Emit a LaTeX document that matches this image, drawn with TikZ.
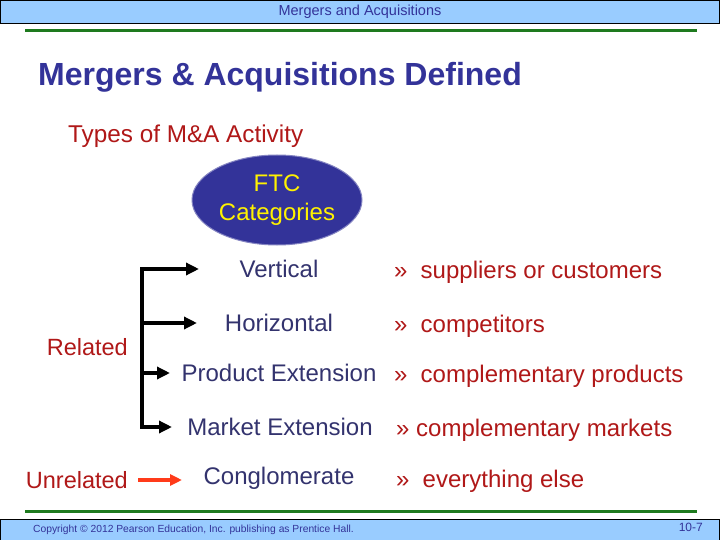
\documentclass[tikz,border=0pt]{standalone}
\usepackage{fontspec}
\setmainfont{Liberation Sans}
\usetikzlibrary{arrows.meta,shapes.geometric}
\definecolor{band}{HTML}{99CCFF}
\definecolor{navy}{HTML}{333399}
\definecolor{itemblue}{HTML}{33336E}
\definecolor{darkred}{HTML}{B01818}
\definecolor{rulegreen}{HTML}{1E7A1E}
\definecolor{arrowred}{HTML}{FF3B1A}
\tikzset{
  item/.style={text=itemblue, font=\fontsize{24}{26}\selectfont, inner sep=0pt},
  desc/.style={text=darkred, font=\fontsize{24}{26}\selectfont, inner sep=0pt, anchor=base west},
  side/.style={text=darkred, font=\fontsize{23.5}{26}\selectfont, inner sep=0pt},
  brk/.style={line width=4pt, black},
  brkarrow/.style={line width=4pt, black, -{Triangle[length=13pt,width=12pt]}},
}
\begin{document}
\begin{tikzpicture}[x=1pt,y=-1pt]
\useasboundingbox (0,0) rectangle (720,540);
\fill[white] (0,0) rectangle (720,540);
% header band
\draw[fill=band, line width=1pt] (0.5,0.5) rectangle (719.5,24);
\node[text=navy, font=\fontsize{14.5}{16}\selectfont, inner sep=0pt] (hdr) at (360,12) {Mergers and Acquisitions};
% green rules
\draw[rulegreen, line width=3pt] (25,31) -- (697,31);
\draw[rulegreen, line width=3pt] (25,511) -- (697,511);
% footer band
\draw[fill=band, line width=1pt] (0.5,519) rectangle (719.5,540);
\node[anchor=west, text=navy, font=\fontsize{10.3}{12}\selectfont, inner sep=0pt] (copy) at (33,530) {Copyright © 2012 Pearson Education, Inc. publishing as Prentice Hall.};
\node[anchor=east, text=navy, font=\fontsize{12}{14}\selectfont, inner sep=0pt] (pg) at (703,527) {10-7};
% title
\node[anchor=west, text=navy, font=\fontsize{32}{34}\selectfont\bfseries, inner sep=0pt] (title) at (38,77) {Mergers \& Acquisitions Defined};
\node[anchor=west, side, font=\fontsize{24.3}{26}\selectfont] (types) at (68,136) {Types of M\&A Activity};
% ellipse
\node[ellipse, fill=navy, draw=navy!60, line width=1pt, minimum width=170pt, minimum height=90pt, inner sep=0pt,
      text=yellow, align=center, font=\fontsize{24}{29}\selectfont] (ftc) at (277,200) {FTC\\Categories};
% items
\node[item] (v) at (279,269) {Vertical};
\node[item] (h) at (279,323) {Horizontal};
\node[item] (p) at (279,373) {Product Extension};
\node[item] (m) at (280,427) {Market Extension};
\node[item] (c) at (279,478) {Conglomerate};
% descriptions
\node[desc] (dv) at (394,278) {»\hspace{0.55em}suppliers or customers};
\node[desc] (dh) at (394,332) {»\hspace{0.55em}competitors};
\node[desc] (dp) at (394,382) {»\hspace{0.55em}complementary products};
\node[desc] (dm) at (396,436) {» complementary markets};
\node[desc] (dc) at (396,487) {»\hspace{0.55em}everything else};
% side labels
\node[side, anchor=east] (rel) at (128,347) {Related};
\node[side, anchor=east] (unrel) at (128,480) {Unrelated};
% bracket
\coordinate (b1) at (142,269);
\coordinate (b2) at (142,323);
\coordinate (b3) at (142,373);
\coordinate (b4) at (142,427);
\coordinate (t1) at (199,269);
\coordinate (t2) at (197,323);
\coordinate (t3) at (170,373);
\coordinate (t4) at (172,427);
\draw[brk, line cap=rect] (b1) -- (b4);
\draw[brkarrow] (b1) -- (t1);
\draw[brkarrow] (b2) -- (t2);
\draw[brkarrow] (b3) -- (t3);
\draw[brkarrow] (b4) -- (t4);
% unrelated arrow
\coordinate (u1) at (138,480);
\coordinate (u2) at (182,480);
\draw[line width=4pt, arrowred, -{Triangle[length=12pt,width=11pt]}] (u1) -- (u2);
\end{tikzpicture}
\end{document}
